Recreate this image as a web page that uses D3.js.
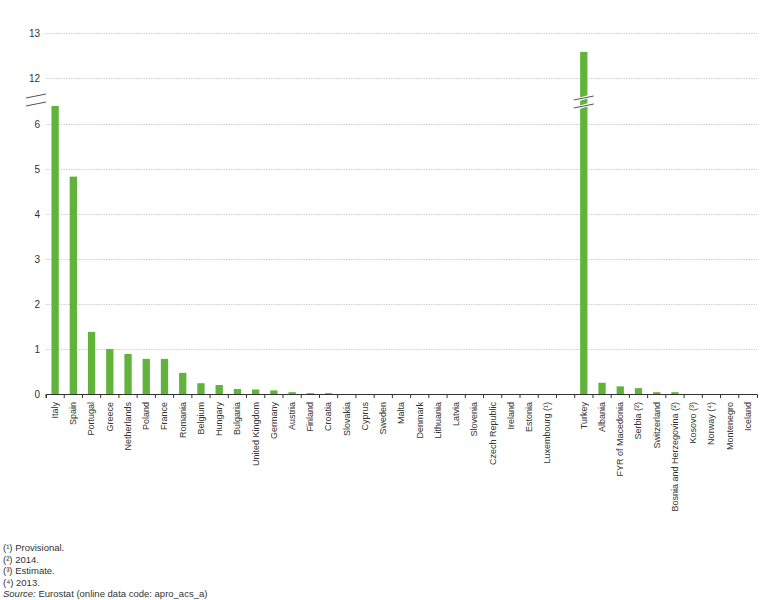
<!DOCTYPE html><html><head><meta charset="utf-8"><script src="https://cdn.jsdelivr.net/npm/d3@7"></script>
<style>body{margin:0;background:#fff}text{font-family:"Liberation Sans",Arial,sans-serif;fill:#333}</style></head><body><svg id="c" width="766" height="600"></svg><script>
const categories=["Italy","Spain","Portugal","Greece","Netherlands","Poland","France","Romania","Belgium","Hungary","Bulgaria","United Kingdom","Germany","Austria","Finland","Croatia","Slovakia","Cyprus","Sweden","Malta","Denmark","Lithuania","Latvia","Slovenia","Czech Republic","Ireland","Estonia","Luxembourg (¹)","","Turkey","Albania","FYR of Macedonia","Serbia (²)","Switzerland","Bosnia and Herzegovina (²)","Kosovo (³)","Norway (⁴)","Montenegro","Iceland"];
const values=[6.4,4.83,1.38,1.0,0.89,0.78,0.78,0.47,0.24,0.2,0.11,0.1,0.08,0.04,0.02,0.02,0,0,0,0,0,0,0,0,0,0,0,0,null,12.58,0.25,0.17,0.13,0.04,0.04,0,0,0,0];
const yTicks=[0,1,2,3,4,5,6,12,13];
const footnotes=["(¹) Provisional.","(²) 2014.","(³) Estimate.","(⁴) 2013."];
const svg=d3.select("#c");
const x=d3.scaleBand().domain(categories.map((c,i)=>i)).range([46,757]).paddingInner(0.6).paddingOuter(0.3);
const y=d3.scaleLinear().domain([0,6.6,11.6,13]).range([394,97,96,33]);
svg.append("g").selectAll("line").data(yTicks).join("line").attr("x1",46).attr("x2",757).attr("y1",d=>y(d)+.5).attr("y2",d=>y(d)+.5).attr("stroke","#d0d0d0").attr("stroke-dasharray","1.5,1");
svg.append("g").selectAll("text").data(yTicks).join("text").attr("x",40).attr("y",d=>y(d)+4).attr("text-anchor","end").attr("font-size",10).text(d=>d);
svg.append("g").selectAll("rect").data(values.map((v,i)=>[i,v]).filter(d=>d[1]!=null)).join("rect")
 .attr("x",d=>x(d[0])).attr("width",x.bandwidth()).attr("y",d=>y(d[1])).attr("height",d=>394-y(d[1])).attr("fill","#61b33b");
const ax=svg.append("g").attr("transform","translate(0,394)").call(d3.axisBottom(x).tickSize(4).tickFormat(i=>categories[i]));
ax.select(".domain").attr("stroke","#333");
ax.selectAll(".tick line").attr("transform",`translate(${-x.step()/2},0)`).attr("stroke","#333");
ax.selectAll(".tick text").attr("font-size",9).attr("font-family","Liberation Sans, Arial").attr("fill","#333").attr("transform","rotate(-90)").attr("text-anchor","end").attr("x",-8).attr("y",0).attr("dy","0.32em");
function brk(cx,cy,w){[-4,4].forEach(o=>{svg.append("line").attr("x1",cx-w/2).attr("x2",cx+w/2).attr("y1",cy+o+3).attr("y2",cy+o-3).attr("stroke","#fff").attr("stroke-width",3);});
 [-4,4].forEach(o=>{svg.append("line").attr("x1",cx-w/2).attr("x2",cx+w/2).attr("y1",cy+o+2).attr("y2",cy+o-2).attr("stroke","#555").attr("stroke-width",1);});}
brk(36,100,20);brk(x(29)+x.bandwidth()/2,102,20);
const f=svg.append("g").attr("font-size",9.5);
footnotes.forEach((t,i)=>f.append("text").attr("x",3).attr("y",551+i*11.6).text(t));
const s=f.append("text").attr("x",3).attr("y",551+4*11.6);
s.append("tspan").attr("font-style","italic").text("Source:");s.append("tspan").text(" Eurostat (online data code: apro_acs_a)");
</script></body></html>
